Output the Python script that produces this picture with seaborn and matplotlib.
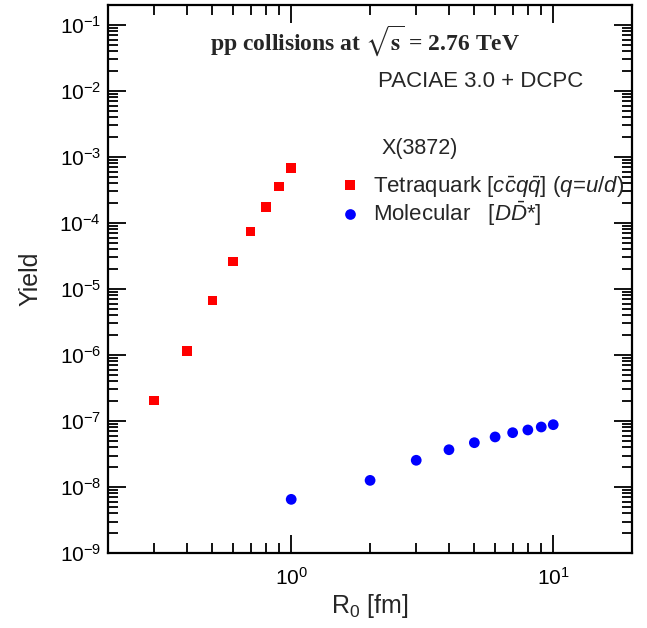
import matplotlib
matplotlib.use("Agg")
import matplotlib.pyplot as plt
import pandas as pd
import seaborn as sns
from matplotlib.lines import Line2D
from matplotlib.ticker import FixedLocator, LogLocator, NullFormatter

sns.set_style("ticks")
plt.rcParams["font.family"] = ["Liberation Sans", "DejaVu Sans"]
plt.rcParams["mathtext.fontset"] = "custom"
plt.rcParams["mathtext.rm"] = "Liberation Sans"
plt.rcParams["mathtext.it"] = "Liberation Sans:italic"
plt.rcParams["mathtext.bf"] = "Liberation Sans:bold"
plt.rcParams["axes.unicode_minus"] = False

# data
tetra_r0 = [0.3, 0.4, 0.5, 0.6, 0.7, 0.8, 0.9, 1.0]
tetra_yield = [2.03e-7, 1.16e-6, 6.65e-6, 2.6e-5, 7.4e-5, 1.75e-4, 3.55e-4, 6.75e-4]
mol_r0 = [1, 2, 3, 4, 5, 6, 7, 8, 9, 10]
mol_yield = [6.5e-9, 1.26e-8, 2.54e-8, 3.67e-8, 4.69e-8, 5.73e-8, 6.65e-8, 7.31e-8, 8.11e-8, 8.79e-8]

x_majors = [1, 10]
y_majors = [1e-9, 1e-8, 1e-7, 1e-6, 1e-5, 1e-4, 1e-3, 1e-2, 1e-1]

tetra_label = r"Tetraquark [$c\bar{c}q\bar{q}$] ($q$=$u$/$d$)"
mol_label = r"Molecular   [$D\bar{D}$*]"

df = pd.concat([
    pd.DataFrame({"R0": tetra_r0, "Yield": tetra_yield, "model": "tetra"}),
    pd.DataFrame({"R0": mol_r0, "Yield": mol_yield, "model": "mol"}),
])

fig = plt.figure(figsize=(6.47, 6.28), dpi=100)
ax = fig.add_axes([0.167, 0.1194, 0.81, 0.8726])

sns.scatterplot(data=df[df.model == "tetra"], x="R0", y="Yield", color="#ff0000",
                marker="s", s=48, edgecolor="none", linewidth=0, ax=ax, legend=False)
sns.scatterplot(data=df[df.model == "mol"], x="R0", y="Yield", color="#0000ff",
                marker="o", s=60, edgecolor="none", linewidth=0, ax=ax, legend=False)

ax.set_xscale("log")
ax.set_yscale("log")
ax.set_xlim(0.2, 20)
ax.set_ylim(1e-9, 2e-1)

ax.xaxis.set_major_locator(FixedLocator(x_majors))
ax.yaxis.set_major_locator(FixedLocator(y_majors))
ax.xaxis.set_minor_locator(LogLocator(base=10, subs=range(2, 10), numticks=20))
ax.yaxis.set_minor_locator(LogLocator(base=10, subs=range(2, 10), numticks=20))
ax.xaxis.set_minor_formatter(NullFormatter())
ax.yaxis.set_minor_formatter(NullFormatter())

for sp in ax.spines.values():
    sp.set_linewidth(1.6)
    sp.set_color("black")
ax.tick_params(which="both", direction="in", top=True, right=True, colors="black",
               labelsize=15, width=1.3)
ax.tick_params(which="major", length=13)
ax.tick_params(which="minor", length=7)
ax.tick_params(axis="y", which="major", pad=5)
ax.tick_params(axis="x", which="major", pad=10)

ax.set_xlabel(r"R$_0$ [fm]", fontsize=18, labelpad=2)
ax.set_ylabel("Yield", fontsize=18, labelpad=12)

ax.text(0.49, 0.935, r"pp collisions at $\mathbf{\sqrt{s}}$ = 2.76 TeV", transform=ax.transAxes,
        ha="center", va="center", fontsize=17, fontweight="bold",
        family="Liberation Serif", math_fontfamily="stix")
ax.text(0.515, 0.86, "PACIAE 3.0 + DCPC", transform=ax.transAxes,
        ha="left", va="center", fontsize=16)
ax.text(0.522, 0.738, "X(3872)", transform=ax.transAxes,
        ha="left", va="center", fontsize=15.5)

handles = [
    Line2D([], [], linestyle="none", marker="s", color="#ff0000", markersize=6.9, markeredgewidth=0),
    Line2D([], [], linestyle="none", marker="o", color="#0000ff", markersize=7.7, markeredgewidth=0),
]
ax.legend(handles, [tetra_label, mol_label], loc="upper left", bbox_to_anchor=(0.44, 0.69),
          frameon=False, fontsize=16, handlelength=1.0, handletextpad=0.55,
          labelspacing=0.0, borderaxespad=0, borderpad=0)

fig.savefig("out.png", dpi=100)
